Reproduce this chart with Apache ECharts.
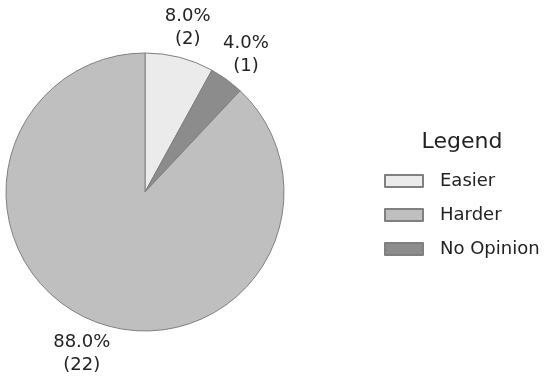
<!DOCTYPE html>
<html><head><meta charset="utf-8">
<script src="https://cdn.jsdelivr.net/npm/echarts@6/dist/echarts.min.js"></script>
<style>html,body{margin:0;padding:0;background:#fff}#c{width:550px;height:381px}</style>
</head><body><div id="c"></div>
<script>
// Slice order (clockwise from top)
const categories = ['Easier', 'No Opinion', 'Harder'];
const counts = [2, 1, 22];
const colors = ['#ebebeb', '#8c8c8c', '#bfbfbf'];
const legendOrder = ['Easier', 'Harder', 'No Opinion'];

const total = counts.reduce((a, b) => a + b, 0);
const CX = 145, CY = 192, R = 139;
const font = 'DejaVu Sans';

const chart = echarts.init(document.getElementById('c'), null, {renderer: 'canvas'});
chart.setOption({
  animation: false,
  backgroundColor: '#fff',
  title: {
    text: 'Legend', left: 457, top: 126, textAlign: 'center',
    textStyle: {fontFamily: font, fontSize: 22, fontWeight: 'normal', color: '#222'}
  },
  legend: {
    data: legendOrder, orient: 'vertical', left: 379, top: 167,
    itemWidth: 38, itemHeight: 12, itemGap: 16,
    textStyle: {fontFamily: font, fontSize: 18, lineHeight: 18, color: '#222', padding: [0, 0, 0, 12]},
    icon: 'rect'
  },
  series: [{
    type: 'pie',
    center: [CX, CY], radius: R,
    startAngle: 90, clockwise: true,
    label: {
      show: true, position: 'inside', overflow: 'none',
      fontFamily: font, fontSize: 18, lineHeight: 23, color: '#222', align: 'center',
      formatter: p => (p.value / total * 100).toFixed(1) + '%\n(' + p.value + ')'
    },
    labelLine: {show: false},
    labelLayout: function (params) {
      let cum = 0;
      for (let i = 0; i < params.dataIndex; i++) cum += counts[i];
      const mid = 90 - (cum + counts[params.dataIndex] / 2) / total * 360;
      const a = mid * Math.PI / 180;
      const d = R * 1.235;
      return {
        x: CX + Math.cos(a) * d,
        y: CY - Math.sin(a) * d + 2,
        align: 'center',
        verticalAlign: 'middle'
      };
    },
    itemStyle: {borderColor: '#808080', borderWidth: 1},
    emphasis: {disabled: true},
    data: categories.map((c, i) => ({name: c, value: counts[i], itemStyle: {color: colors[i]}}))
  }]
});
</script></body></html>
